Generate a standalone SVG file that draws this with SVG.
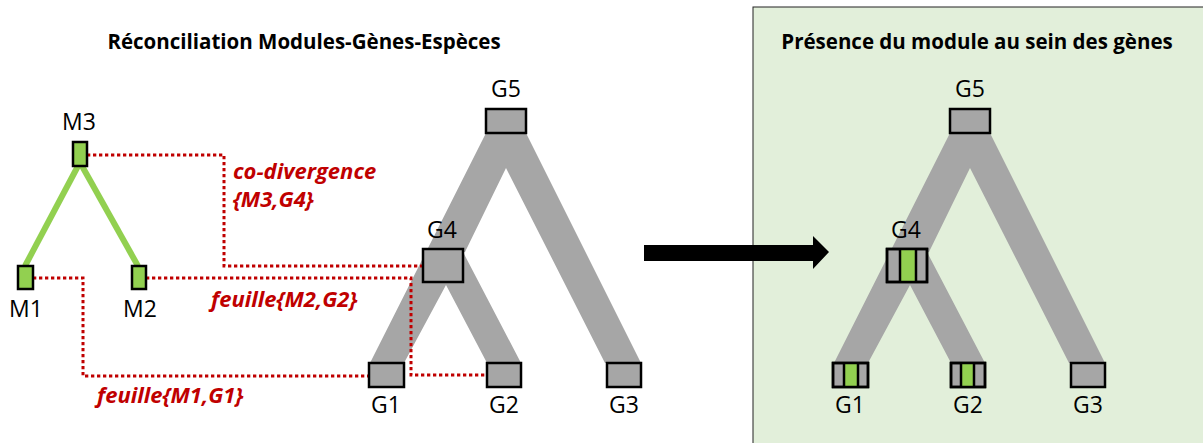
<svg xmlns="http://www.w3.org/2000/svg" width="1203" height="443" viewBox="0 0 1203 443">
<style>
.title{font-family:"Open Sans","Liberation Sans",sans-serif;font-weight:bold;font-size:20.5px;fill:#000;text-anchor:middle}
.lbl{font-family:"Open Sans","Liberation Sans",sans-serif;font-size:23px;fill:#000;text-anchor:middle}
.red{font-family:"Open Sans","Liberation Sans",sans-serif;font-weight:bold;font-style:italic;font-size:22px;fill:#C00000}
.gbox{fill:#A6A6A6;stroke:#000;stroke-width:2.5}
.mbox{fill:#92D050;stroke:#000;stroke-width:2.5}
.grn{fill:#92D050}
.div{stroke:#000;stroke-width:2.5}
.branch{fill:#A6A6A6;stroke:none}
.mline{stroke:#92D050;stroke-width:6;fill:none}
.dot{stroke:#C00000;stroke-width:3;fill:none;stroke-dasharray:3.3 2.7}
</style>
<rect id="panel" x="753" y="7" width="460" height="450" fill="#E2EFDA" stroke="#222" stroke-width="1"/>
<text class="title" x="304" y="49">Réconciliation Modules-Gènes-Espèces</text>
<text class="title" x="977" y="49">Présence du module au sein des gènes</text>

<g id="connectors">
  <polygon class="branch" points="486,133 526,133 641,363 605,363 506,168 465,252 426,252"/>
  <polygon class="branch" points="426,252 463,252 521,363 487,363 446,285 404,363 370,363"/>
  <polygon class="branch" points="950,133 990,133 1105,363 1069,363 970,168 929,252 890,252"/>
  <polygon class="branch" points="890,252 927,252 985,363 951,363 910,285 868,363 834,363"/>
  <line class="mline" x1="78" y1="166" x2="25" y2="266"/>
  <line class="mline" x1="82" y1="166" x2="138" y2="266"/>
  <polyline class="dot" points="87,155 224,155 224,266 423,266"/>
  <polyline class="dot" points="33,278 83,278 83,376 369,376"/>
  <polyline class="dot" points="146,278 411,278 411,375 487,375"/>
  <polygon points="644,245 813,245 813,236 829,252 813,269 813,261 644,261" fill="#000"/>
</g>

<text class="red" x="233" y="179">co-divergence</text>
<text class="red" x="233" y="207">{M3,G4}</text>
<text class="red" x="211" y="307">feuille{M2,G2}</text>
<text class="red" x="97" y="403">feuille{M1,G1}</text>

<g id="M3"><rect class="mbox" x="73" y="142" width="14" height="24"/><text class="lbl" x="79" y="130">M3</text></g>
<g id="M1"><rect class="mbox" x="18" y="266" width="15" height="23"/><text class="lbl" x="26" y="317">M1</text></g>
<g id="M2"><rect class="mbox" x="132" y="266" width="14" height="23"/><text class="lbl" x="140" y="317">M2</text></g>

<g id="G5"><rect class="gbox" x="486" y="109" width="40" height="24"/><text class="lbl" x="506" y="97">G5</text></g>
<g id="G4"><rect class="gbox" x="423" y="249" width="40" height="33"/><text class="lbl" x="442" y="238">G4</text></g>
<g id="G1"><rect class="gbox" x="369" y="363" width="35" height="24"/><text class="lbl" x="386" y="413">G1</text></g>
<g id="G2"><rect class="gbox" x="487" y="363" width="34" height="24"/><text class="lbl" x="504" y="413">G2</text></g>
<g id="G3"><rect class="gbox" x="607" y="363" width="34" height="24"/><text class="lbl" x="624" y="413">G3</text></g>

<g id="G5b"><rect class="gbox" x="950" y="109" width="40" height="24"/><text class="lbl" x="970" y="97">G5</text></g>
<g id="G4b"><rect class="gbox" x="887" y="249" width="40" height="33"/><rect class="grn" x="900" y="249" width="16" height="33"/><line class="div" x1="900" y1="249" x2="900" y2="282"/><line class="div" x1="916" y1="249" x2="916" y2="282"/><rect x="887" y="249" width="40" height="33" fill="none" stroke="#000" stroke-width="2.5"/><text class="lbl" x="906" y="238">G4</text></g>
<g id="G1b"><rect class="gbox" x="833" y="363" width="35" height="24"/><rect class="grn" x="844" y="363" width="14" height="24"/><line class="div" x1="844" y1="363" x2="844" y2="387"/><line class="div" x1="858" y1="363" x2="858" y2="387"/><rect x="833" y="363" width="35" height="24" fill="none" stroke="#000" stroke-width="2.5"/><text class="lbl" x="850" y="413">G1</text></g>
<g id="G2b"><rect class="gbox" x="951" y="363" width="34" height="24"/><rect class="grn" x="961" y="363" width="13" height="24"/><line class="div" x1="961" y1="363" x2="961" y2="387"/><line class="div" x1="974" y1="363" x2="974" y2="387"/><rect x="951" y="363" width="34" height="24" fill="none" stroke="#000" stroke-width="2.5"/><text class="lbl" x="968" y="413">G2</text></g>
<g id="G3b"><rect class="gbox" x="1071" y="363" width="34" height="24"/><text class="lbl" x="1088" y="413">G3</text></g>
</svg>
